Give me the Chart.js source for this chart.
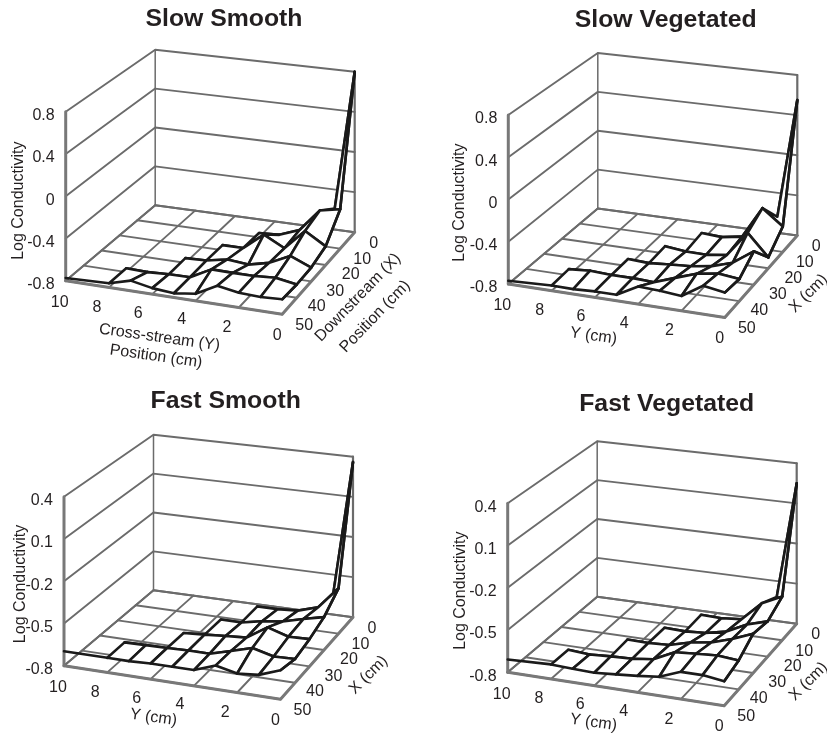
<!DOCTYPE html>
<html>
<head>
<meta charset="utf-8">
<script src="https://cdn.jsdelivr.net/npm/chart.js@4"></script>
<style>
  html, body { margin: 0; background: #fff; }
  canvas { position: absolute; }
</style>
</head>
<body>
<canvas id="slowSmooth" style="left:0;top:0"></canvas>
<canvas id="slowVegetated" style="left:414px;top:0"></canvas>
<canvas id="fastSmooth" style="left:0;top:372px"></canvas>
<canvas id="fastVegetated" style="left:414px;top:372px"></canvas>
<script>
// sampled positions, rows of each table run along xPositions, columns along yPositions
const xPositions = [50, 40, 30, 20, 10, 0];
const yPositions = [10, 8, 7, 6, 5, 4, 3, 2, 1, 0];
const xTicks = [0, 10, 20, 30, 40, 50];
const yTicks = [10, 8, 6, 4, 2, 0];
const slowTicks = [-0.8, -0.4, 0, 0.4, 0.8];
const fastTicks = [-0.8, -0.5, -0.2, 0.1, 0.4];

const slowSmoothZ = [
  [-.774, -.761, -.705, -.744, -.761, -.735, -.63, -.663, -.672, -.663],
  [null, -.764, -.77, -.76, -.757, -.653, -.656, -.656, -.643, -.676],
  [null, null, null, -.754, -.748, -.708, -.728, -.682, -.587, -.669],
  [null, null, null, null, -.75, -.75, -.59, -.695, -.5, -.62],
  [null, null, null, null, null, -.757, -.748, -.672, -.453, -.414],
  [null, null, null, null, null, null, null, null, -.59, .8]
];
const slowVegetatedZ = [
  [-.77, -.751, -.754, -.744, -.744, -.637, -.646, -.663, -.538, -.571],
  [null, -.741, -.725, -.735, -.735, -.744, -.672, -.604, -.571, -.594],
  [null, null, null, -.731, -.741, -.725, -.712, -.682, -.62, -.483],
  [null, null, null, null, -.728, -.751, -.754, -.728, -.486, -.695],
  [null, null, null, null, null, -.725, -.738, -.705, -.398, -.551],
  [null, null, null, null, null, null, null, null, -.64, .55]
];
const fastSmoothZ = [
  [-.697, -.697, -.697, -.69, -.69, -.69, -.636, -.668, -.655, -.6],
  [null, -.695, -.692, -.69, -.685, -.685, -.643, -.6, -.638, -.633],
  [null, null, null, -.692, -.682, -.67, -.66, -.565, -.61, -.606],
  [null, null, null, null, -.685, -.685, -.655, -.636, -.597, -.562],
  [null, null, null, null, null, -.682, -.682, -.672, -.626, -.467],
  [null, null, null, null, null, null, null, null, -.655, .36]
];
const fastVegetatedZ = [
  [-.709, -.697, -.704, -.709, -.697, -.685, -.668, -.611, -.611, -.631],
  [null, -.7, -.712, -.702, -.697, -.678, -.606, -.594, -.584, -.597],
  [null, null, null, -.692, -.695, -.687, -.648, -.626, -.58, -.52],
  [null, null, null, null, -.697, -.702, -.692, -.66, -.589, -.545],
  [null, null, null, null, null, -.695, -.7, -.687, -.548, -.479],
  [null, null, null, null, null, null, null, null, -.619, .25]
];

// box shape relative to the left floor corner (Y=10, X=50)
const corner = { front: [216.5, 33.5], back: [89.5, -75.5], right: [289, -48.5] };
const boxHeight = { left: 169, front: 174, back: 155.5, right: 160.5 };

const GRID = '#6b6b6b';
const EDGE = '#787878';
const MESH = '#1a1a1a';
const TEXT = '#231f20';

const yTickShift = [[-6, 22], [-12, 20], [-14, 19], [-14, 19], [-12, 20], [-5, 21]];
const xTickShift = [[19, 11], [22, 11], [25, 10], [24, 10], [20, 9], [22, 11]];

const panels = [
  { id: 'slowSmooth', w: 414, h: 372, dx: 0, dy: 0, origin: [65.7, 280.7], table: slowSmoothZ, ticks: slowTicks,
    title: 'Slow Smooth', titleAt: [224, 19],
    labels: [
      ['Log Conductivity', 18.3, 200.7, -90],
      ['Cross-stream (Y)', 159.5, 337.5, 8],
      ['Position (cm)', 156, 356.5, 8],
      ['Downstream (X)', 358, 297.5, -46],
      ['Position (cm)', 375, 316.5, -46]
    ] },
  { id: 'slowVegetated', w: 413, h: 372, dx: 414, dy: 0, origin: [508.3, 284], table: slowVegetatedZ, ticks: slowTicks,
    title: 'Slow Vegetated', titleAt: [665.7, 20],
    labels: [
      ['Log Conductivity', 459.3, 202.7, -90],
      ['Y (cm)', 593.5, 336, 8],
      ['X (cm)', 808.5, 293.5, -45]
    ] },
  { id: 'fastSmooth', w: 414, h: 362, dx: 0, dy: 372, origin: [64, 665.7], table: fastSmoothZ, ticks: fastTicks,
    title: 'Fast Smooth', titleAt: [225.7, 400.7],
    labels: [
      ['Log Conductivity', 20.5, 584, -90],
      ['Y (cm)', 153.5, 717.5, 8],
      ['X (cm)', 368.5, 675, -45]
    ] },
  { id: 'fastVegetated', w: 413, h: 362, dx: 414, dy: 372, origin: [507.7, 672.3], table: fastVegetatedZ, ticks: fastTicks,
    title: 'Fast Vegetated', titleAt: [666.7, 404],
    labels: [
      ['Log Conductivity', 460.7, 590.7, -90],
      ['Y (cm)', 593.5, 722.5, 8],
      ['X (cm)', 808.5, 681.5, -45]
    ] }
];

function makeProjector(p) {
  const zMin = p.ticks[0];
  const zMax = p.ticks[p.ticks.length - 1];
  const ox = p.origin[0] - p.dx;
  const oy = p.origin[1] - p.dy;
  const lerp = (a, b, t) => a + (b - a) * t;
  return function (x, y, z) {
    const t = (10 - y) / 10;
    const s = (50 - x) / 50;
    const fx = lerp(corner.front[0] * t, lerp(corner.back[0], corner.right[0], t), s);
    const fy = lerp(corner.front[1] * t, lerp(corner.back[1], corner.right[1], t), s);
    const h = lerp(lerp(boxHeight.left, boxHeight.front, t), lerp(boxHeight.back, boxHeight.right, t), s);
    return { x: ox + fx, y: oy + fy - (z - zMin) / (zMax - zMin) * h };
  };
}

function lineSet(points, color, width, fill) {
  return {
    data: points,
    showLine: true,
    pointRadius: 0,
    borderColor: color,
    borderWidth: width,
    borderJoinStyle: 'round',
    borderCapStyle: 'round',
    backgroundColor: '#fff',
    fill: fill ? 'shape' : false,
    tension: 0,
    clip: false
  };
}

// walls and floor, drawn first
function boxSets(p, project) {
  const sets = [];
  const bottom = p.ticks[0];
  const top = p.ticks[p.ticks.length - 1];
  p.ticks.forEach(z => {
    sets.push(lineSet([project(50, 10, z), project(0, 10, z), project(0, 0, z)], GRID, 1.9));
  });
  xTicks.forEach(x => sets.push(lineSet([project(x, 10, bottom), project(x, 0, bottom)], GRID, 1.9)));
  yTicks.forEach(y => sets.push(lineSet([project(50, y, bottom), project(0, y, bottom)], GRID, 1.9)));
  sets.push(lineSet([project(0, 10, bottom), project(0, 10, top)], GRID, 1.5));
  sets.push(lineSet([project(0, 0, bottom), project(0, 0, top)], GRID, 2.2));
  sets.push(lineSet([project(50, 10, bottom), project(50, 10, top)], EDGE, 3));
  sets.push(lineSet([project(50, 10, bottom), project(50, 0, bottom), project(0, 0, bottom)], EDGE, 3));
  return sets;
}

// surface cells back to front, white inside so that they hide the floor
function meshSets(p, project) {
  const sets = [];
  const node = (i, j) => {
    const z = p.table[i][j];
    return z === null ? null : project(xPositions[i], yPositions[j], z);
  };
  for (let i = xPositions.length - 1; i >= 0; i--) {
    for (let j = 0; j < yPositions.length; j++) {
      const a = node(i, j);
      if (!a) continue;
      const right = j + 1 < yPositions.length ? node(i, j + 1) : null;
      const behind = i + 1 < xPositions.length ? node(i + 1, j) : null;
      const diag = i + 1 < xPositions.length && j + 1 < yPositions.length ? node(i + 1, j + 1) : null;
      if (right && behind && diag) {
        sets.push(lineSet([a, right, diag, behind, a], MESH, 2.6, true));
      } else {
        if (right && !diag) sets.push(lineSet([a, right], MESH, 2.6));
        if (right && diag && !behind) sets.push(lineSet([a, right], MESH, 2.6));
        if (behind && !diag) sets.push(lineSet([a, behind], MESH, 2.6));
      }
    }
  }
  return sets;
}

function textPlugin(p, project) {
  return {
    id: 'panelText',
    afterDraw(chart) {
      const ctx = chart.ctx;
      const bottom = p.ticks[0];
      const put = (text, x, y, angle, font, align) => {
        ctx.save();
        ctx.translate(x, y);
        ctx.rotate((angle || 0) * Math.PI / 180);
        ctx.font = font;
        ctx.fillStyle = TEXT;
        ctx.textAlign = align || 'center';
        ctx.textBaseline = 'middle';
        ctx.fillText(text, 0, 0);
        ctx.restore();
      };
      const tickFont = '16px "Liberation Sans"';
      p.ticks.forEach(z => {
        const a = project(50, 10, z);
        put(String(z), a.x - 11, a.y + 4, 0, tickFont, 'right');
      });
      yTicks.forEach((y, i) => {
        const a = project(50, y, bottom);
        put(String(y), a.x + yTickShift[i][0], a.y + yTickShift[i][1], 0, tickFont);
      });
      xTicks.forEach((x, i) => {
        const a = project(x, 0, bottom);
        put(String(x), a.x + xTickShift[i][0], a.y + xTickShift[i][1], 0, tickFont);
      });
      p.labels.forEach(l => put(l[0], l[1] - p.dx, l[2] - p.dy, l[3], '16px "Liberation Sans"'));
      put(p.title, p.titleAt[0] - p.dx, p.titleAt[1] - p.dy, 0, 'bold 24.8px "Liberation Sans"');
    }
  };
}

panels.forEach(p => {
  const project = makeProjector(p);
  const canvas = document.getElementById(p.id);
  canvas.width = p.w;
  canvas.height = p.h;
  const ordered = boxSets(p, project).concat(meshSets(p, project));
  new Chart(canvas, {
    type: 'scatter',
    data: { datasets: ordered.reverse() }, // chart.js paints the last dataset first
    options: {
      responsive: false,
      animation: false,
      layout: { padding: 0 },
      scales: {
        x: { type: 'linear', display: false, min: 0, max: p.w },
        y: { type: 'linear', display: false, min: 0, max: p.h, reverse: true }
      },
      plugins: {
        legend: { display: false },
        tooltip: { enabled: false },
        filler: { drawTime: 'beforeDatasetDraw' }
      }
    },
    plugins: [textPlugin(p, project)]
  });
});
</script>
</body>
</html>
